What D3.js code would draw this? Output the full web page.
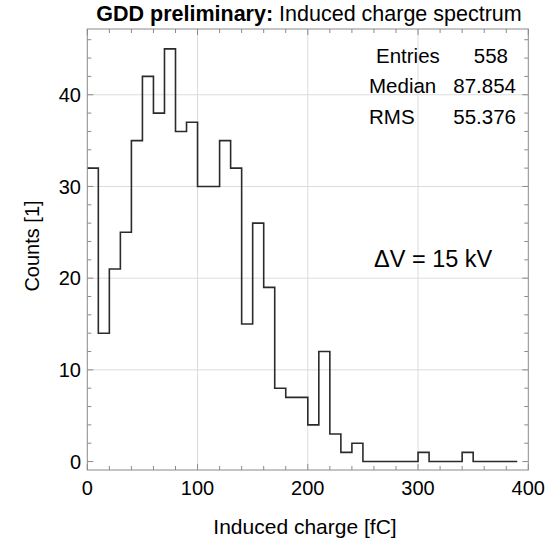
<!DOCTYPE html>
<html>
<head>
<meta charset="utf-8">
<script src="https://cdn.jsdelivr.net/npm/d3@7/dist/d3.min.js"></script>
<style>
  html, body { margin: 0; padding: 0; background: #fff; }
  svg { display: block; }
  text { font-family: "Liberation Sans", Arial, Helvetica, sans-serif; fill: #000; }
</style>
</head>
<body>
<svg id="chart" width="546" height="544"></svg>
<script>
// ---- data ----
const binStart = 0;
const binWidth = 10;
const counts = [32, 14, 21, 25, 35, 42, 38, 45, 36, 37,
                30, 30, 35, 32, 15, 26, 19, 8, 7, 7,
                4, 12, 3, 1, 2, 0, 0, 0, 0, 0,
                1, 0, 0, 0, 1, 0, 0, 0, 0];
const xMajorTicks = [0, 100, 200, 300, 400];
const yMajorTicks = [0, 10, 20, 30, 40];
const statsLabels = ["Entries", "Median", "RMS"];
const statsValues = ["558", "87.854", "55.376"];
const titleBold = "GDD preliminary:";
const titleRest = " Induced charge spectrum";
const xLabel = "Induced charge [fC]";
const yLabel = "Counts [1]";
const annotation = "ΔV = 15 kV";

// ---- layout ----
const pL = 87.3, pR = 528.3, pT = 29, pB = 470;
const svg = d3.select("#chart");

const x = d3.scaleLinear().domain([0, 400]).range([pL, pR]);
const y = d3.scaleLinear().domain([-0.92, 47.17]).range([pB, pT]);

// grid lines
const g = svg.append("g");
g.selectAll(".gx").data([100, 200, 300]).enter().append("line")
  .attr("x1", d => x(d)).attr("x2", d => x(d))
  .attr("y1", pT).attr("y2", pB)
  .attr("stroke", "#dcdcdc").attr("stroke-width", 1);
g.selectAll(".gy").data([10, 20, 30, 40]).enter().append("line")
  .attr("x1", pL).attr("x2", pR)
  .attr("y1", d => y(d)).attr("y2", d => y(d))
  .attr("stroke", "#dcdcdc").attr("stroke-width", 1);

// ticks (inward, on all four sides)
const tickColor = "#8a8a8a";
const xMinor = d3.range(0, 401, 20).filter(v => v % 100 !== 0);
const yMinor = d3.range(0, 47, 2).filter(v => v % 10 !== 0);
const majLen = 6, minLen = 4;

function xTicks(vals, len) {
  vals.forEach(v => {
    g.append("line").attr("x1", x(v)).attr("x2", x(v)).attr("y1", pB).attr("y2", pB - len)
      .attr("stroke", tickColor).attr("stroke-width", 1);
    g.append("line").attr("x1", x(v)).attr("x2", x(v)).attr("y1", pT).attr("y2", pT + len)
      .attr("stroke", tickColor).attr("stroke-width", 1);
  });
}
function yTicks(vals, len) {
  vals.forEach(v => {
    g.append("line").attr("x1", pL).attr("x2", pL + len).attr("y1", y(v)).attr("y2", y(v))
      .attr("stroke", tickColor).attr("stroke-width", 1);
    g.append("line").attr("x1", pR).attr("x2", pR - len).attr("y1", y(v)).attr("y2", y(v))
      .attr("stroke", tickColor).attr("stroke-width", 1);
  });
}
xTicks(xMajorTicks, majLen); xTicks(xMinor, minLen);
yTicks(yMajorTicks, majLen); yTicks(yMinor, minLen);

// histogram step line
const pts = counts.map((c, i) => [binStart + i * binWidth, c]);
pts.push([binStart + counts.length * binWidth, counts[counts.length - 1]]);
const line = d3.line().x(d => x(d[0])).y(d => y(d[1])).curve(d3.curveStepAfter);
svg.append("path").attr("d", line(pts))
  .attr("fill", "none").attr("stroke", "#2b2b2b").attr("stroke-width", 1.6);

// frame
svg.append("rect").attr("x", pL).attr("y", pT)
  .attr("width", pR - pL).attr("height", pB - pT)
  .attr("fill", "none").attr("stroke", tickColor).attr("stroke-width", 1);

// tick labels
svg.selectAll(".xl").data(xMajorTicks).enter().append("text")
  .attr("x", d => x(d)).attr("y", 495).attr("text-anchor", "middle")
  .style("font-size", "20px").text(d => d);
svg.selectAll(".yl").data(yMajorTicks).enter().append("text")
  .attr("x", 81).attr("y", d => y(d)).attr("dy", "0.36em").attr("text-anchor", "end")
  .style("font-size", "20px").text(d => d);

// title
const t = svg.append("text").attr("x", 309).attr("y", 21).attr("text-anchor", "middle")
  .style("font-size", "21.5px");
t.append("tspan").style("font-weight", "bold").text(titleBold);
t.append("tspan").text(titleRest.replace(/^ /, "\u00A0"));

// axis labels
svg.append("text").attr("x", 305).attr("y", 534).attr("text-anchor", "middle")
  .style("font-size", "21px").text(xLabel);
svg.append("text").attr("transform", "translate(39,246) rotate(-90)").attr("text-anchor", "middle")
  .style("font-size", "20px").text(yLabel);

// stats
const statX = [376, 369, 369];
const statY = [63, 93.3, 124.3];
const valX = [508, 516, 516];
statsLabels.forEach((s, i) => {
  svg.append("text").attr("x", statX[i]).attr("y", statY[i]).style("font-size", "20.5px").text(s);
  svg.append("text").attr("x", valX[i]).attr("y", statY[i]).attr("text-anchor", "end")
    .style("font-size", "20.5px").text(statsValues[i]);
});

// annotation
svg.append("text").attr("x", 374).attr("y", 266.7).style("font-size", "23.5px").text(annotation);
</script>
</body>
</html>
